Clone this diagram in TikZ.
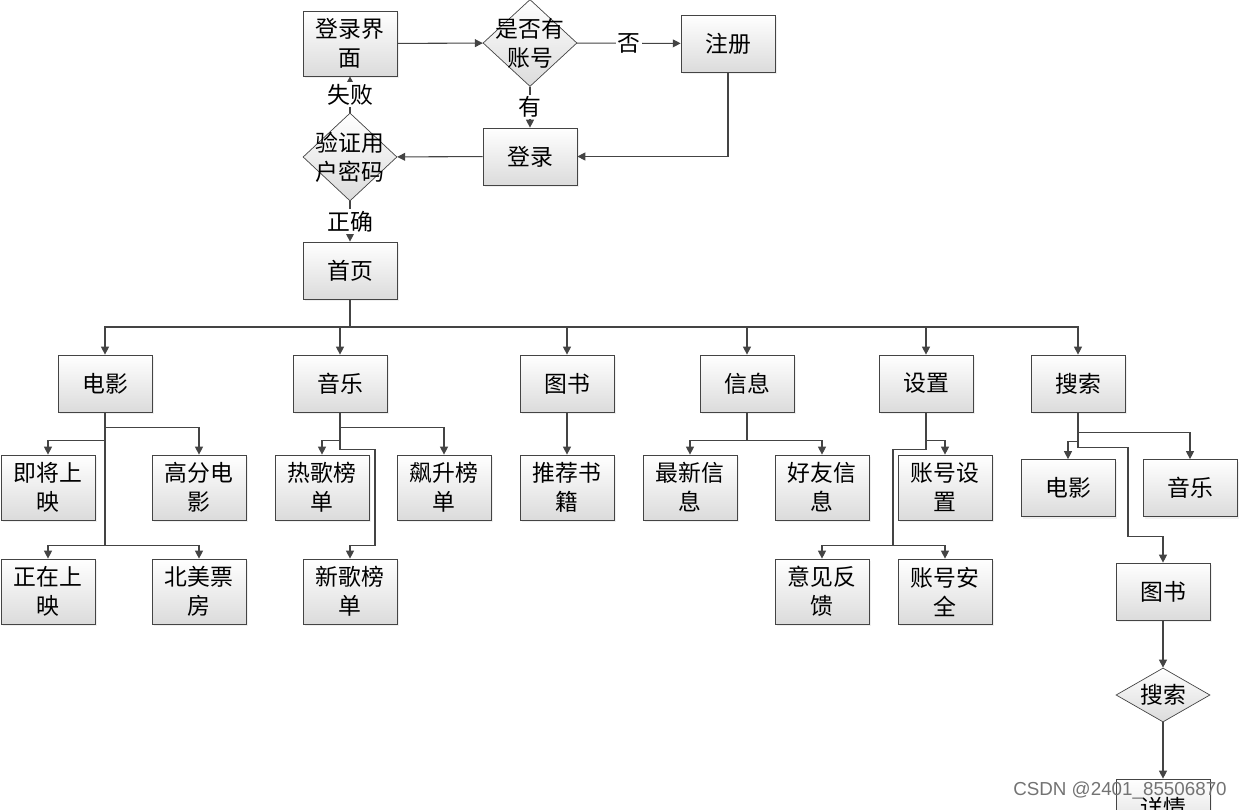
\documentclass[tikz,border=0pt]{standalone}
\usepackage{fontspec}
\newfontfamily\cjk{Noto Sans CJK SC}
\newfontfamily\wmfont{Liberation Sans}
\usepackage{tikz}
\usetikzlibrary{shapes.geometric, arrows.meta, shadows}
\usepackage{xcolor}
\definecolor{linegray}{HTML}{444444}

\begin{document}
\begin{tikzpicture}[x=0.02cm, y=-0.02cm,
    box/.style={draw=linegray, top color=white, bottom color=black!14, minimum width=1.88cm, minimum height=1.14cm, inner sep=0pt, font=\cjk\fontsize{13}{16.5}\selectfont, align=center, drop shadow={opacity=0.12, shadow xshift=1.2pt, shadow yshift=-1.2pt}},
    tall/.style={box, minimum height=1.3cm},
    dia/.style={diamond, draw=linegray, top color=white, bottom color=black!14, inner sep=0pt, minimum width=1.88cm},
    dtext/.style={font=\cjk\fontsize{13}{16.5}\selectfont, align=center, inner sep=0pt},
    lbl/.style={fill=white, inner sep=1pt, font=\cjk\fontsize{13}{16}\selectfont},
    edge/.style={-{Triangle[length=4.5pt, width=4.5pt]}, draw=linegray, line width=0.6pt},
]
\useasboundingbox (0,0) rectangle (1241,810);
\clip (0,0) rectangle (1241,810);

\node[tall] (login) at (350,43.5) {登录界\\面};
\node[dia, minimum height=1.74cm] (acc) at (530,43) {};
\node[dtext] (acct) at (acc) {是否有\\账号};
\node[box] (reg) at (728,43.5) {注册};
\node[box] (signin) at (530,156.5) {登录};
\node[dia, minimum height=1.76cm] (verify) at (350,157) {};
\node[dtext] (verifyt) at (verify) {验证用\\户密码};
\node[box] (home) at (350,270.5) {首页};

\node[box] (movie) at (105,383.5) {电影};
\node[box] (music) at (340,383.5) {音乐};
\node[box] (book) at (567,383.5) {图书};
\node[box] (info) at (747,383.5) {信息};
\node[box] (setting) at (926,383.5) {设置};
\node[box] (search) at (1078,383.5) {搜索};

\node[tall] (soon) at (48,487.5) {即将上\\映};
\node[tall] (high) at (199,487.5) {高分电\\影};
\node[tall] (hot) at (322,487.5) {热歌榜\\单};
\node[tall] (rising) at (444,487.5) {飙升榜\\单};
\node[tall] (recommend) at (567,487.5) {推荐书\\籍};
\node[tall] (latest) at (690,487.5) {最新信\\息};
\node[tall] (friend) at (822,487.5) {好友信\\息};
\node[tall] (account) at (945,487.5) {账号设\\置};
\node[box] (smovie) at (1068,488) {电影};
\node[box] (smusic) at (1190,488) {音乐};

\node[tall] (now) at (48,591.5) {正在上\\映};
\node[tall] (boxoffice) at (199,591.5) {北美票\\房};
\node[tall] (new) at (350,591.5) {新歌榜\\单};
\node[tall] (feedback) at (822,591.5) {意见反\\馈};
\node[tall] (security) at (945,591.5) {账号安\\全};
\node[box] (sbook) at (1163,591.5) {图书};
\node[dia, minimum height=1.08cm] (sfind) at (1163,695) {};
\node[dtext] (sfindt) at (sfind) {搜索};
\node[box] (detail) at (1163,807.5) {详情};

\draw[edge] (login) -- (acc);
\draw[edge] (acc) -- node[lbl] {否} (reg);
\draw[edge] (acc) -- node[lbl] {有} (signin);
\draw[edge] (reg) |- (signin);
\draw[edge] (signin) -- (verify);
\draw[edge] (verify) -- node[lbl] {失败} (login);
\draw[edge] (verify) -- node[lbl] {正确} (home);

\coordinate (bus) at (350,327);
\foreach \n in {movie,music,book,info,setting,search}
    \draw[edge] (home) -- (bus) -| (\n);

\draw[edge] (movie.south) -- ++(0,28) -| (soon);
\draw[edge] (movie.south) -- ++(0,15) -| (high);
\draw[edge] (movie.south) -- ++(0,133) -| (now);
\draw[edge] (movie.south) -- ++(0,133) -| (boxoffice);

\draw[edge] (music.south) -- ++(0,15) -| (rising);
\draw[edge] (music.south) -- ++(0,28) -| (hot);
\draw[edge] (music.south) -- ++(0,37) -- ++(35,0) -- ++(0,96) -| (new);

\draw[edge] (book) -- (recommend);

\draw[edge] (info.south) -- ++(0,28) -| (latest);
\draw[edge] (info.south) -- ++(0,28) -| (friend);

\draw[edge] (setting.south) -- ++(0,28) -| (account);
\draw[edge] (setting.south) -- ++(0,37) -- ++(-33,0) -- ++(0,96) -| (feedback);
\draw[edge] (setting.south) -- ++(0,37) -- ++(-33,0) -- ++(0,96) -| (security);

\draw[edge] (search.south) -- ++(0,20) -| (smusic);
\draw[edge] (search.south) -- ++(0,29) -| (smovie);
\draw[edge] (search.south) -- ++(0,35) -- ++(50,0) -- ++(0,89) -| (sbook);
\draw[edge] (sbook) -- (sfind);
\draw[edge] (sfind) -- (detail);

\node[font=\wmfont\fontsize{10.7}{12}\selectfont, text=black!55] (mark) at (1120,791) {CSDN @2401\_85506870};
\end{tikzpicture}
\end{document}
